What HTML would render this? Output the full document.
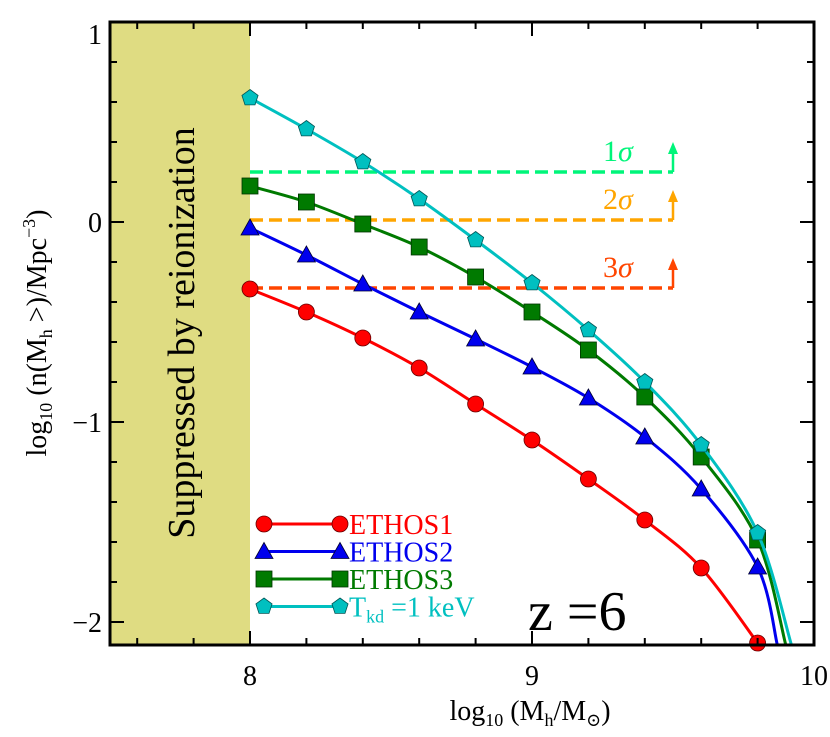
<!DOCTYPE html>
<html><head><meta charset="utf-8"><style>
body{margin:0;background:#fff}
svg, svg text, svg tspan{font-family:"Liberation Serif","DejaVu Serif",serif}
</style></head><body>
<svg id="chart" width="830" height="732" xmlns="http://www.w3.org/2000/svg" font-family="Liberation Serif, serif">
<rect x="110" y="22" width="140" height="623" fill="#dfdc82"/>
<text transform="translate(194,333) rotate(-90)" text-anchor="middle" font-size="38" font-family="Liberation Serif, serif">Suppressed by reionization</text>
<g id="marks"></g>
<rect x="110" y="22" width="704" height="623" fill="none" stroke="#000" stroke-width="3"/>
<g id="ticks"></g>
<text x="530" y="720" text-anchor="middle" font-size="28" font-family="Liberation Serif, serif">log<tspan font-size="18" dy="6">10</tspan><tspan dy="-6"> (M</tspan><tspan font-size="18" dy="6">h</tspan><tspan dy="-6">/M</tspan><tspan font-size="18" dy="6">⊙</tspan><tspan dy="-6">)</tspan></text>
<text transform="translate(46,333) rotate(-90)" text-anchor="middle" font-size="28" font-family="Liberation Serif, serif">log<tspan font-size="18" dy="6">10</tspan><tspan dy="-6"> (n(M</tspan><tspan font-size="18" dy="6">h</tspan><tspan dy="-6"> &gt;)/Mpc</tspan><tspan font-size="18" dy="-11">−3</tspan><tspan dy="11">)</tspan></text>
<text x="528" y="630" font-size="56" font-family="Liberation Serif, serif">z =6</text>
</svg>
<script>
const xVals=[8,8.2,8.4,8.6,8.8,9.0,9.2,9.4,9.6,9.8];
const ethos1=[-0.335,-0.45,-0.58,-0.73,-0.91,-1.09,-1.285,-1.49,-1.73,-2.105];
const ethos2=[-0.03,-0.165,-0.31,-0.45,-0.585,-0.725,-0.88,-1.075,-1.335,-1.725];
const ethos3=[0.18,0.1,-0.01,-0.125,-0.275,-0.45,-0.64,-0.875,-1.175,-1.59];
const tkd1=[0.62,0.465,0.3,0.115,-0.09,-0.305,-0.54,-0.8,-1.115,-1.555];
const endX=[9.8,9.87,9.9,9.92];
const sigmaLevels=[0.25,0.01,-0.33];
const sigmaLabels=["1σ","2σ","3σ"];
const xTicks=[8,9,10];
const yTicks=[1,0,-1,-2];
const NS="http://www.w3.org/2000/svg";
const FF="Liberation Serif, serif";
const X=v=>250+(v-8)*282, Y=v=>222-v*200;
const YMIN=-2.115;
const marks=document.getElementById('marks'), ticks=document.getElementById('ticks');
function mk(tag,attrs,parent){const e=document.createElementNS(NS,tag);for(const k in attrs)e.setAttribute(k,attrs[k]);parent.appendChild(e);return e;}
const sigCols=["#00f57a","#ffa500","#ff4500"];
sigmaLevels.forEach((s,i)=>{
 const g=mk('g',{},marks);
 
 
 mk('line',{x1:X(8),x2:X(9.5),y1:Y(s),y2:Y(s),stroke:sigCols[i],'stroke-width':3.5,'stroke-dasharray':'13,6'},g);
 mk('line',{x1:X(9.5),x2:X(9.5),y1:Y(s),y2:Y(s)-20,stroke:sigCols[i],'stroke-width':2.5},g);
 mk('polygon',{points:`${X(9.5)-5},${Y(s)-18} ${X(9.5)+5},${Y(s)-18} ${X(9.5)},${Y(s)-30}`,fill:sigCols[i]},g);
 const t=mk('text',{x:X(9.5)-70,y:Y(s)-11,'font-size':30,fill:sigCols[i],'font-family':FF},g);
 t.innerHTML=sigmaLabels[i].slice(0,1)+'<tspan font-style="italic">σ</tspan>';
});
function curve(pts){let d=`M${pts[0][0]},${pts[0][1]}`;for(let i=0;i<pts.length-1;i++){const p0=pts[i-1]||pts[i],p1=pts[i],p2=pts[i+1],p3=pts[i+2]||p2;d+=` C${p1[0]+(p2[0]-p0[0])/6},${p1[1]+(p2[1]-p0[1])/6} ${p2[0]-(p3[0]-p1[0])/6},${p2[1]-(p3[1]-p1[1])/6} ${p2[0]},${p2[1]}`;}return d;}
function marker(type,cx,cy,col,g){
 if(type==='c')return mk('circle',{cx,cy,r:8,fill:col,stroke:'#600',"stroke-width":0.8},g);
 if(type==='t')return mk('polygon',{points:`${cx-9},${cy+7} ${cx+9},${cy+7} ${cx},${cy-9}`,fill:col,stroke:'#003','stroke-width':0.8},g);
 if(type==='s')return mk('rect',{x:cx-8,y:cy-8,width:16,height:16,fill:col,stroke:'#030','stroke-width':0.8},g);
 let p=[];for(let k=0;k<5;k++){const a=-Math.PI/2+k*2*Math.PI/5;p.push((cx+8.5*Math.cos(a))+','+(cy+8.5*Math.sin(a)));}
 return mk('polygon',{points:p.join(' '),fill:col,stroke:'#055','stroke-width':0.8},g);
}
const series=[["ethos1",ethos1,"#ff0000","c","ETHOS1"],["ethos2",ethos2,"#0000ee","t","ETHOS2"],["ethos3",ethos3,"#007a00","s","ETHOS3"],["tkd-1kev",tkd1,"#00c0c0","p",null]];
series.forEach((s,i)=>{
 const g=mk('g',{},marks);
 
 
 const pts=xVals.map((x,j)=>[X(x),Y(s[1][j])]);
 if(i>0)pts.push([X(endX[i]),Y(YMIN)]);
 mk('path',{d:curve(pts),fill:'none',stroke:s[2],'stroke-width':3},g);
 xVals.forEach((x,j)=>{const m=marker(s[3],X(x),Y(s[1][j]),s[2],g);
  
  });
 const ly=524+i*27.5;
 const lg=mk('g',{},marks);
 
 
 mk('line',{x1:262,x2:340,y1:ly,y2:ly,stroke:s[2],'stroke-width':3},lg);
 marker(s[3],264,ly,s[2],lg);marker(s[3],340,ly,s[2],lg);
 const t=mk('text',{x:349,y:ly+10,'font-size':28,fill:s[2],'font-family':FF},lg);
 if(s[4])t.textContent=s[4];
 else t.innerHTML='T<tspan font-size="18" dy="6">kd</tspan><tspan dy="-6"> =1 keV</tspan>';
});
for(let v=7.6;v<10;v+=0.2){const x=X(v),maj=Math.abs(v-Math.round(v))<1e-6;const L=maj?14:7;
 mk('line',{x1:x,x2:x,y1:645,y2:645-L,stroke:'#000','stroke-width':2},ticks);
 mk('line',{x1:x,x2:x,y1:22,y2:22+L,stroke:'#000','stroke-width':2},ticks);}
for(let v=-2;v<1;v+=0.2){const y=Y(v),maj=Math.abs(v-Math.round(v))<1e-6;const L=maj?14:7;
 mk('line',{x1:110,x2:110+L,y1:y,y2:y,stroke:'#000','stroke-width':2},ticks);
 mk('line',{x1:814,x2:814-L,y1:y,y2:y,stroke:'#000','stroke-width':2},ticks);}
xTicks.forEach(v=>{const t=mk('text',{x:X(v),y:685,'text-anchor':'middle','font-size':28,'font-family':FF},ticks);
 
 
 t.textContent=v;});
yTicks.forEach(v=>{const t=mk('text',{x:102,y:Y(v)+(v===1?22:10),'text-anchor':'end','font-size':28,'font-family':FF},ticks);
 
 
 t.textContent=v<0?'−'+(-v):v;});
</script>
</body></html>
